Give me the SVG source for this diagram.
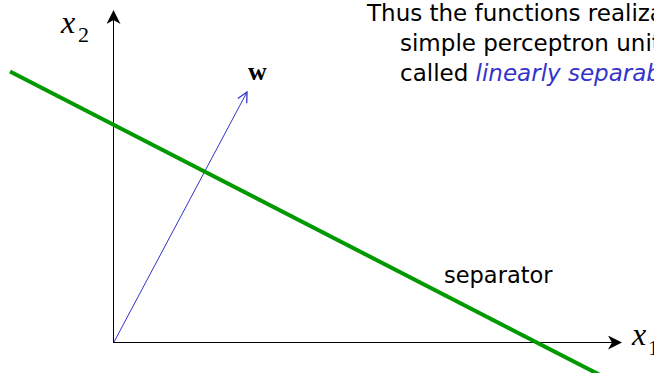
<svg xmlns="http://www.w3.org/2000/svg" width="654" height="373" viewBox="0 0 654 373">
<style>
.body{font-family:"DejaVu Sans",Verdana,sans-serif;font-size:23px;fill:#000}
.sep{font-size:22.5px}
.em{fill:#3333cc;font-style:italic}
.math{font-family:"Liberation Serif","Times New Roman",serif;font-style:italic;font-size:32px;fill:#000}
.sub{font-family:"Liberation Serif","Times New Roman",serif;font-size:22px;fill:#000}
.axis{stroke:#000;stroke-width:1;fill:none}
</style>
<defs>
<marker id="ah" viewBox="0 0 14 14" refX="13" refY="7" markerWidth="14" markerHeight="14" markerUnits="userSpaceOnUse" orient="auto">
<path d="M0,0 L14,7 L0,14 L4,7 Z" fill="#000"/>
</marker>
<marker id="bh" viewBox="0 0 12 12" refX="11" refY="6" markerWidth="12" markerHeight="12" markerUnits="userSpaceOnUse" orient="auto">
<path d="M1,1 L11,6 L1,11" fill="none" stroke="#3333cc" stroke-width="1.3"/>
</marker>
</defs>
<g id="connectors">
<line class="axis" x1="113.5" y1="343" x2="113.5" y2="11" marker-end="url(#ah)"/>
<line class="axis" x1="113" y1="342.5" x2="621" y2="342.5" marker-end="url(#ah)"/>
<line x1="114" y1="342" x2="247" y2="92" stroke="#3333cc" stroke-width="1" marker-end="url(#bh)"/>
<line x1="10" y1="71.5" x2="602" y2="376" stroke="#009900" stroke-width="4"/>
</g>
<g id="label-x2">
<text class="math" x="61" y="33">x</text>
<text class="sub" x="78" y="42">2</text>
</g>
<g id="label-x1">
<text class="math" x="632" y="345">x</text>
<text class="sub" x="648" y="355">1</text>
</g>
<g id="label-w">
<text x="248" y="80" font-family="'Liberation Serif','Times New Roman',serif" font-weight="bold" font-size="26">w</text>
</g>
<g id="label-separator">
<text class="body sep" x="444" y="283">separator</text>
</g>
<g id="caption">
<text class="body" x="367" y="21">Thus the functions realizable by a</text>
<text class="body" x="400" y="51">simple perceptron unit are</text>
<text class="body" x="400" y="81">called <tspan class="em">linearly separable</tspan></text>
</g>
</svg>
